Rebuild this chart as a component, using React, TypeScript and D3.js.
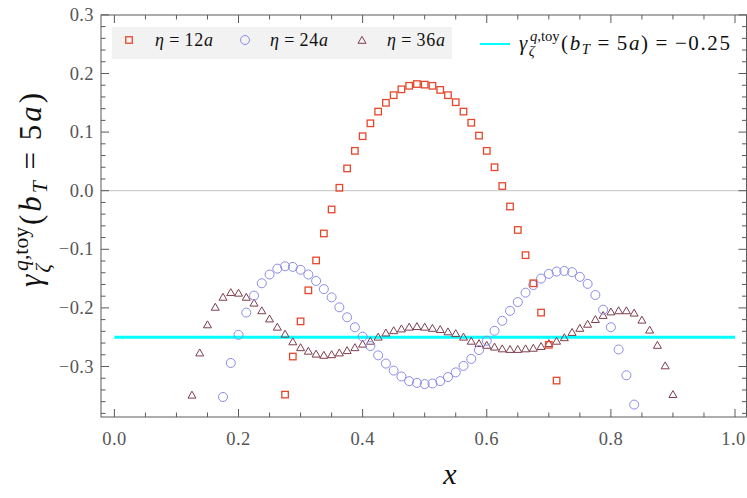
import React from "react";
import * as d3 from "d3";

// ---- data ----
const xSq = [0.275,0.2875,0.3,0.3125,0.325,0.3375,0.35,0.3625,0.375,0.3875,0.4,0.4125,0.425,0.4375,0.45,0.4625,0.475,0.4875,0.5,0.5125,0.525,0.5375,0.55,0.5625,0.575,0.5875,0.6,0.6125,0.625,0.6375,0.65,0.6625,0.675,0.6875,0.7,0.7125];
const eta12 = [-0.348,-0.283,-0.223,-0.170,-0.119,-0.073,-0.032,0.005,0.038,0.068,0.093,0.115,0.135,0.150,0.163,0.173,0.179,0.182,0.181,0.179,0.172,0.163,0.151,0.135,0.116,0.094,0.068,0.040,0.008,-0.027,-0.067,-0.110,-0.158,-0.208,-0.263,-0.324];

const xCi = [0.175,0.1875,0.2,0.2125,0.225,0.2375,0.25,0.2625,0.275,0.2875,0.3,0.3125,0.325,0.3375,0.35,0.3625,0.375,0.3875,0.4,0.4125,0.425,0.4375,0.45,0.4625,0.475,0.4875,0.5,0.5125,0.525,0.5375,0.55,0.5625,0.575,0.5875,0.6,0.6125,0.625,0.6375,0.65,0.6625,0.675,0.6875,0.7,0.7125,0.725,0.7375,0.75,0.7625,0.775,0.7875,0.8,0.8125,0.825,0.8375];
const eta24 = [-0.352,-0.294,-0.246,-0.208,-0.179,-0.158,-0.143,-0.133,-0.129,-0.130,-0.135,-0.143,-0.154,-0.168,-0.182,-0.199,-0.216,-0.233,-0.249,-0.265,-0.281,-0.295,-0.307,-0.317,-0.325,-0.328,-0.330,-0.329,-0.325,-0.318,-0.310,-0.299,-0.287,-0.272,-0.256,-0.239,-0.222,-0.205,-0.190,-0.174,-0.161,-0.150,-0.142,-0.138,-0.137,-0.139,-0.147,-0.159,-0.178,-0.203,-0.233,-0.271,-0.315,-0.365];

const xTr = [0.125,0.1375,0.15,0.1625,0.175,0.1875,0.2,0.2125,0.225,0.2375,0.25,0.2625,0.275,0.2875,0.3,0.3125,0.325,0.3375,0.35,0.3625,0.375,0.3875,0.4,0.4125,0.425,0.4375,0.45,0.4625,0.475,0.4875,0.5,0.5125,0.525,0.5375,0.55,0.5625,0.575,0.5875,0.6,0.6125,0.625,0.6375,0.65,0.6625,0.675,0.6875,0.7,0.7125,0.725,0.7375,0.75,0.7625,0.775,0.7875,0.8,0.8125,0.825,0.8375,0.85,0.8625,0.875,0.8875,0.9];
const eta36 = [-0.350,-0.278,-0.230,-0.200,-0.183,-0.175,-0.176,-0.183,-0.193,-0.206,-0.220,-0.234,-0.246,-0.259,-0.269,-0.275,-0.280,-0.282,-0.281,-0.278,-0.274,-0.269,-0.263,-0.258,-0.251,-0.244,-0.240,-0.237,-0.234,-0.233,-0.234,-0.236,-0.238,-0.242,-0.245,-0.251,-0.258,-0.262,-0.265,-0.268,-0.271,-0.272,-0.272,-0.271,-0.270,-0.267,-0.262,-0.258,-0.252,-0.243,-0.236,-0.229,-0.221,-0.214,-0.208,-0.206,-0.206,-0.210,-0.222,-0.239,-0.265,-0.300,-0.349];

const toyValue = -0.25;
const toyRange = [0, 1];
const xTickLabels = ["0.0", "0.2", "0.4", "0.6", "0.8", "1.0"];
const xMajor = [0, 0.2, 0.4, 0.6, 0.8, 1.0];
const yMajor = [-0.3, -0.2, -0.1, 0.0, 0.1, 0.2, 0.3];
const yTickLabels = ["\u22120.3", "\u22120.2", "\u22120.1", "0.0", "0.1", "0.2", "0.3"];

const W = 747, H = 498;
const L = 101, R = 746.5, T = 15, B = 417;

const C_SQ = "#E5472C";
const C_CI = "#8C8CE8";
const C_TR = "#7E3E4E";
const C_CY = "#00FFFF";
const SERIF = '"Liberation Serif"';
const mathStyle = { fontFamily: SERIF };
const tickStyle = { fontFamily: SERIF, letterSpacing: "0.4px" };

function Gamma({ F, sub = true, restLen }: { F: number; sub?: boolean; restLen: number }) {
  return (
    <>
      <text x={0} y={0} fontStyle="italic" fontSize={F} fontFamily={SERIF} style={mathStyle}>γ</text>
      <text x={0.52 * F} y={-0.42 * F} fontSize={0.7 * F} fontFamily={SERIF} style={mathStyle}>
        <tspan fontStyle="italic">q</tspan>,toy
      </text>
      <text x={0.46 * F} y={0.3 * F} fontSize={0.7 * F} fontStyle="italic" fontFamily={SERIF} style={mathStyle}>ζ</text>
      <text x={2.0 * F} y={0} fontSize={F} fontFamily={SERIF} style={mathStyle} textLength={restLen} lengthAdjust="spacing">
        (<tspan fontStyle="italic">b</tspan>
        <tspan fontStyle="italic" fontSize={0.7 * F} dy={0.18 * F}>T</tspan>
        <tspan dy={-0.18 * F} dx={0.28 * F}>=</tspan>
        <tspan dx={0.28 * F}>5</tspan>
        <tspan fontStyle="italic">a</tspan>)
        {sub ? <tspan dx={0.28 * F}>=</tspan> : null}
        {sub ? <tspan dx={0.28 * F}>{"\u22120.25"}</tspan> : null}
      </text>
    </>
  );
}

export default function App() {
  const x = d3.scaleLinear().domain([(L - 114.4) / 620.6, (R - 114.4) / 620.6]).range([L, R]);
  const y = d3.scaleLinear().domain([(190.7 - B) / 586, (190.7 - T) / 586]).range([B, T]);

  const xMinor = d3.range(0, 1.0001, 0.05).filter((v) => !xMajor.some((m) => Math.abs(m - v) < 1e-6));
  const yMinor = d3.range(-0.38, 0.3001, 0.02).filter((v) => !yMajor.some((m) => Math.abs(m - v) < 1e-6));

  const sqS = 6.5;
  const cr = 4.5;
  const triPath = (cx: number, cy: number) => {
    const s = 8, h = s * Math.sqrt(3) / 2;
    return `M${cx},${cy - (2 * h) / 3}L${cx + s / 2},${cy + h / 3}L${cx - s / 2},${cy + h / 3}Z`;
  };

  const legendItems = [
    { n: "12", x: 155 },
    { n: "24", x: 270 },
    { n: "36", x: 387 },
  ];

  const FL = 21;
  const FY = 31;

  return (
    <svg width={W} height={H} style={{ position: "absolute", left: 0, top: 0, background: "#fff" }}>
      <defs>
        <clipPath id="plotclip">
          <rect x={L} y={T} width={R - L} height={B - T} />
        </clipPath>
      </defs>
      <line x1={L} x2={R} y1={y(0)} y2={y(0)} stroke="#cfcfcf" strokeWidth={1.2} />

      <g clipPath="url(#plotclip)">
        <line x1={x(toyRange[0])} x2={x(toyRange[1])} y1={y(toyValue)} y2={y(toyValue)} stroke={C_CY} strokeWidth={3} />
        {xTr.map((v, i) => (
          <path key={"t" + i} d={triPath(x(v), y(eta36[i]))} fill="none" stroke={C_TR} strokeWidth={1} />
        ))}
        {xCi.map((v, i) => (
          <circle key={"c" + i} cx={x(v)} cy={y(eta24[i])} r={cr} fill="none" stroke={C_CI} strokeWidth={1} />
        ))}
        {xSq.map((v, i) => (
          <rect key={"s" + i} x={x(v) - sqS / 2} y={y(eta12[i]) - sqS / 2} width={sqS} height={sqS} fill="none" stroke={C_SQ} strokeWidth={1.3} />
        ))}
      </g>

      <rect x={L} y={T} width={R - L} height={B - T} fill="none" stroke="#5a5a5a" strokeWidth={1} />
      {xMajor.map((v, i) => (
        <g key={"xm" + i}>
          <line x1={x(v)} x2={x(v)} y1={B} y2={B - 8} stroke="#5a5a5a" />
          <line x1={x(v)} x2={x(v)} y1={T} y2={T + 8} stroke="#5a5a5a" />
          <text x={Math.min(x(v), 733.5)} y={445} textAnchor="middle" fontFamily={SERIF} style={tickStyle} fontSize={18.5} fill="#555">{xTickLabels[i]}</text>
        </g>
      ))}
      {xMinor.map((v, i) => (
        <g key={"xn" + i}>
          <line x1={x(v)} x2={x(v)} y1={B} y2={B - 4.5} stroke="#5a5a5a" />
          <line x1={x(v)} x2={x(v)} y1={T} y2={T + 4.5} stroke="#5a5a5a" />
        </g>
      ))}
      {yMajor.map((v, i) => (
        <g key={"ym" + i}>
          <line x1={L} x2={L + 8} y1={y(v)} y2={y(v)} stroke="#5a5a5a" />
          <line x1={R} x2={R - 8} y1={y(v)} y2={y(v)} stroke="#5a5a5a" />
          <text x={94} y={y(v) + 6} textAnchor="end" fontFamily={SERIF} style={tickStyle} fontSize={18.5} fill="#555">{yTickLabels[i]}</text>
        </g>
      ))}
      {yMinor.map((v, i) => (
        <g key={"yn" + i}>
          <line x1={L} x2={L + 4.5} y1={y(v)} y2={y(v)} stroke="#5a5a5a" />
          <line x1={R} x2={R - 4.5} y1={y(v)} y2={y(v)} stroke="#5a5a5a" />
        </g>
      ))}

      <rect x={112} y={27} width={340} height={32} fill="#f2f2f2" />
      <rect x={129 - sqS / 2} y={40 - sqS / 2} width={sqS} height={sqS} fill="none" stroke={C_SQ} strokeWidth={1.3} />
      <circle cx={245} cy={40} r={cr} fill="none" stroke={C_CI} strokeWidth={1} />
      <path d={triPath(362, 41)} fill="none" stroke={C_TR} strokeWidth={1} />
      {legendItems.map((it) => (
        <text key={it.n} x={it.x} y={46} fontSize={18} fill="#111" fontFamily={SERIF} style={mathStyle} textLength={58} lengthAdjust="spacing">
          <tspan fontStyle="italic">η</tspan>
          <tspan dx={4.5}>=</tspan>
          <tspan dx={4.5}>{it.n}</tspan>
          <tspan fontStyle="italic">a</tspan>
        </text>
      ))}

      <line x1={480} x2={510} y1={44} y2={44} stroke={C_CY} strokeWidth={2} />
      <g transform="translate(519,50)" fill="#111">
        <Gamma F={FL} restLen={730 - 519 - 2.0 * FL} />
      </g>

      <text x={450} y={484} textAnchor="middle" fontFamily={SERIF} style={mathStyle} fontStyle="italic" fontSize={30} fill="#111">x</text>
      <g transform="translate(41,287) rotate(-90)" fill="#111">
        <Gamma F={FY} sub={false} restLen={287 - 93 - 2.0 * FY} />
      </g>
    </svg>
  );
}
